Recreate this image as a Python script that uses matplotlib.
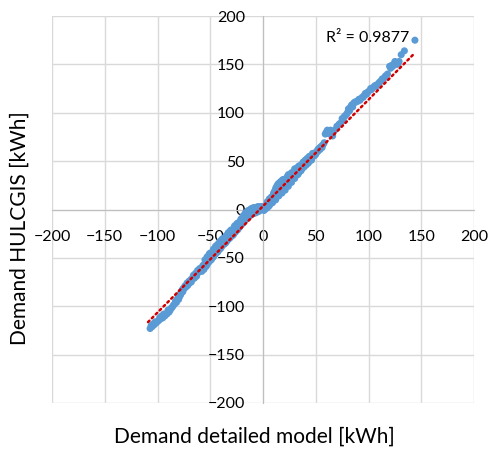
import matplotlib
matplotlib.use("Agg")
import matplotlib.pyplot as plt
import numpy as np

plt.rcParams['font.family'] = ['Lato', 'DejaVu Sans']

# ------------------ DATOS ------------------
x_bajo = [-107, -106, -105, -104, -103, -102, -101, -99, -98, -97, -96, -95, -94, -93, -91,
          -90, -90, -89, -88, -87, -86, -85, -84, -83, -82, -81, -80, -80, -79, -78, -78,
          -77, -76, -76, -75, -74, -74, -73, -72, -72, -71, -70, -70, -69, -68, -68, -67,
          -66, -66, -65, -64, -64, -63, -62, -62, -61, -60, -60]
y_bajo = [-123, -120, -121, -118, -119, -116, -117, -115, -112, -113, -110, -112, -108, -110, -108,
          -104, -106, -106, -104, -102, -101, -99, -98, -95, -96, -92, -93, -90, -90, -88, -86,
          -84, -85, -82, -82, -81, -79, -80, -79, -76, -78, -76, -74, -74, -75, -72, -72,
          -70, -68, -71, -68, -66, -69, -66, -63, -64, -63, -61]

x_medio = [-58, -58, -57, -56, -56, -56, -55, -55, -54, -54, -53, -53, -53, -52, -52, -51,
           -51, -51, -50, -50, -49, -49, -48, -48, -47, -47, -47, -46, -46, -45, -45, -45,
           -44, -44, -43, -43, -43, -42, -42, -41, -41, -41, -40, -40, -39, -39, -39, -38,
           -38, -37, -37, -36, -36, -35, -35, -35, -34, -34, -33, -33, -33, -32, -32, -31,
           -31, -31, -30, -30, -29, -29, -28, -28, -27, -27, -27, -26, -26, -25, -25, -25,
           -24, -24, -24, -23, -23, -22, -22, -21, -21, -21, -20, -20, -19, -19, -19, -18,
           -18, -17, -17, -17, -16, -16, -15, -15, -15, -14, -14, -13, -13, -12, -12, -12,
           -11, -11, -10, -10, -9, -9, -8, -8, -7, -6, -6, -5, -5, -4, -4, -3, -3, -2, -1,
           -1, 0]
y_medio = [-60, -64, -58, -57, -60, -62, -56, -52, -55, -59, -53, -57, -49, -51, -55, -50,
           -54, -46, -48, -45, -47, -52, -46, -50, -44, -49, -41, -43, -47, -41, -38, -46,
           -40, -44, -39, -44, -36, -38, -42, -37, -41, -33, -35, -40, -34, -38, -31, -33,
           -30, -32, -36, -31, -35, -30, -34, -27, -29, -32, -27, -31, -24, -26, -30, -25,
           -29, -22, -24, -21, -23, -27, -22, -26, -20, -24, -17, -19, -23, -18, -21, -15,
           -17, -21, -14, -15, -19, -13, -18, -12, -16, -10, -11, -15, -10, -14, -7, -8,
           -6, -7, -11, -4, -6, -10, -4, -9, -2, -7, -1, -3, -7, -2, -6, 0,
           -5, 1, -1, -4, -2, 2, -1, -4, 2, 0, -3, -1, 3, 1, -2, -1, 3, 1, 0,
           3, 2]

x_alto = [0, 1, 1, 2, 2, 3, 3, 4, 4, 4, 5, 5, 6, 6, 6, 7, 7, 8, 8, 8, 9, 9, 10, 10, 10,
          11, 11, 11, 12, 12, 12, 13, 13, 13, 14, 14, 14, 15, 15, 15, 16, 16, 16, 17, 17,
          17, 18, 18, 18, 19, 19, 19, 20, 20, 20, 21, 21, 22, 22, 22, 23, 23, 23, 24, 24,
          24, 25, 25, 25, 26, 26, 27, 27, 27, 28, 28, 29, 29, 29, 30, 30, 30, 31, 31, 31,
          32, 32, 33, 33, 34, 34, 34, 35, 35, 36, 36, 36, 37, 37, 38, 38, 39, 39, 40, 40,
          41, 41, 42, 42, 43, 43, 44, 44, 44, 45, 46, 46, 47, 47, 48, 48, 49, 49, 50]
y_alto = [0, 2, -1, 3, 1, 4, 1, 6, 2, 8, 8, 3, 9, 4, 11, 10, 6, 11, 7, 13, 13, 7, 14, 9, 17,
          16, 12, 19, 18, 10, 22, 20, 14, 24, 21, 16, 26, 22, 14, 27, 23, 18, 28, 24, 20,
          29, 25, 17, 30, 26, 22, 31, 27, 23, 31, 28, 20, 29, 25, 32, 30, 27, 34, 31, 24,
          36, 32, 29, 35, 33, 30, 34, 28, 38, 35, 31, 36, 33, 39, 37, 32, 42, 38, 35, 41,
          39, 43, 41, 36, 42, 38, 45, 43, 40, 44, 40, 46, 45, 42, 46, 49, 47, 44, 48, 51,
          49, 46, 50, 53, 51, 48, 52, 50, 55, 53, 54, 51, 56, 58, 57, 55, 58, 56, 59]

x_max = [50, 51, 52, 52, 53, 54, 54, 55, 56, 56, 57, 58, 59, 60, 61, 62, 63, 64, 65, 66,
         68, 70, 72, 73, 75, 76, 77, 78, 79, 80, 81, 82, 83, 84, 85, 86, 87, 88, 89, 90,
         91, 92, 94, 95, 96, 97, 98, 99, 100, 102, 103, 104, 106, 107, 108, 110, 111, 112,
         113, 115, 116, 118, 120, 121, 122, 123, 124, 125, 126, 127, 128, 129, 131, 134, 144]
y_max = [57, 60, 62, 60, 63, 64, 62, 65, 66, 64, 67, 69, 78, 80, 82, 79, 78, 82, 80, 76,
         82, 86, 88, 89, 94, 92, 96, 97, 98, 100, 104, 102, 106, 108, 106, 110, 111, 111, 112, 112,
         114, 113, 116, 116, 118, 120, 119, 121, 122, 125, 124, 126, 128, 127, 129, 131, 132, 133,
         135, 136, 138, 140, 148, 146, 149, 148, 150, 153, 152, 150, 151, 153, 160, 164, 175]

x_det = np.array(x_bajo + x_medio + x_alto + x_max, float)
y_hul = np.array(y_bajo + y_medio + y_alto + y_max, float)

# línea de tendencia (pendiente y ordenada)
tend_m = 1.10
tend_b = 3.5
tend_x = [-109, 143]

ticks = [-200, -150, -100, -50, 0, 50, 100, 150, 200]
texto_r2 = "R² = 0.9877"

# ------------------ GRÁFICA ------------------
fig = plt.figure(figsize=(4.89, 4.50), dpi=100)
ax = fig.add_axes([52 / 489, 1 - 403 / 450, 422 / 489, 387 / 450])

ax.scatter(x_det, y_hul, s=26, color='#5B9BD5', edgecolors='none', zorder=3)

xt = np.array(tend_x, float)
ax.plot(xt, tend_m * xt + tend_b, color='#D00000', lw=1.8, linestyle=(0, (0.8, 1.4)),
        dash_capstyle='round', zorder=4)

ax.set_xlim(-200, 200)
ax.set_ylim(-200, 200)
ax.set_xticks(ticks)
ax.set_yticks(ticks)
ax.grid(True, color='#D9D9D9', lw=1)
ax.set_axisbelow(True)

for lado in ['top', 'right']:
    ax.spines[lado].set_visible(False)
ax.spines['left'].set_position(('data', 0))
ax.spines['bottom'].set_position(('data', 0))
ax.spines['left'].set_color('#BFBFBF')
ax.spines['bottom'].set_color('#BFBFBF')
ax.tick_params(axis='both', length=0, labelsize=11.5, colors='black')
ax.tick_params(axis='x', pad=15)
ax.tick_params(axis='y', pad=13)

ax.text(0.748, 0.943, texto_r2, transform=ax.transAxes, ha='center', va='center',
        fontsize=11.5)

fig.text(254 / 489, 1 - 437 / 450, "Demand detailed model [kWh]", ha='center',
         va='center', fontsize=15)
fig.text(20 / 489, 1 - 228 / 450, "Demand HULCGIS [kWh]", ha='center', va='center',
         rotation=90, fontsize=15)

fig.savefig("out.png", dpi=100)
